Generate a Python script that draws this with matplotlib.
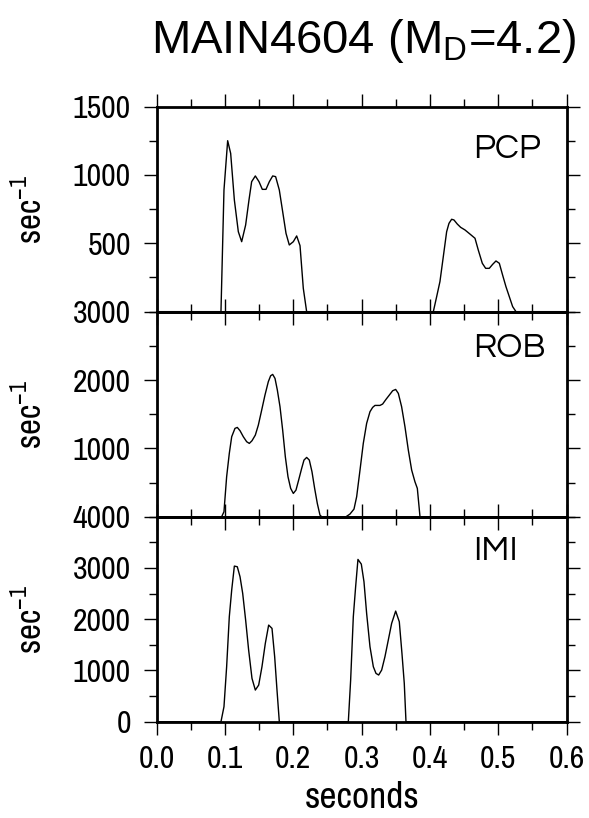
import matplotlib
matplotlib.use("Agg")
import matplotlib.pyplot as plt
from matplotlib.ticker import MultipleLocator, FixedLocator, FormatStrFormatter

# traces (seconds, sec^-1)
pcp_t = [0.0, 0.0941, 0.0985, 0.1039, 0.1083, 0.1137, 0.1195, 0.1244, 0.1302, 0.1351, 0.1390,
         0.1444, 0.1498, 0.1546, 0.1600, 0.1649, 0.1698, 0.1741, 0.1795, 0.1844, 0.1893,
         0.1941, 0.2000, 0.2049, 0.2098, 0.2146, 0.2195,
         0.4049, 0.4098, 0.4146, 0.4195, 0.4244, 0.4278, 0.4317, 0.4351, 0.4400, 0.4449,
         0.4512, 0.4585, 0.4659, 0.4707, 0.4766, 0.4815, 0.4868, 0.4917, 0.4966, 0.5015,
         0.5063, 0.5112, 0.5161, 0.5210, 0.5259, 0.6]
pcp_v = [0, 0, 890, 1251, 1158, 817, 585, 512, 634, 817, 951,
         993, 951, 895, 895, 951, 993, 988, 890, 732, 573,
         488, 512, 554, 483, 171, 0,
         0, 110, 220, 402, 585, 646, 676, 671, 641, 617,
         598, 568, 537, 451, 354, 317, 317, 346, 371, 354,
         268, 183, 110, 37, 0, 0]

rob_t = [0.0, 0.0951, 0.0985, 0.1024, 0.1063, 0.1098, 0.1146, 0.1180, 0.1220, 0.1268, 0.1317,
         0.1356, 0.1395, 0.1444, 0.1488, 0.1537, 0.1585, 0.1634, 0.1668, 0.1698, 0.1732,
         0.1766, 0.1805, 0.1844, 0.1883, 0.1922, 0.1961, 0.2000, 0.2039, 0.2078, 0.2122,
         0.2156, 0.2195, 0.2234, 0.2273, 0.2312, 0.2351, 0.2390, 0.2415,
         0.2771, 0.2829, 0.2888, 0.2927, 0.2976, 0.3024, 0.3073, 0.3122, 0.3161, 0.3195,
         0.3268, 0.3307, 0.3356, 0.3405, 0.3454, 0.3498, 0.3537, 0.3585, 0.3634, 0.3683,
         0.3732, 0.3780, 0.3815, 0.3854, 0.6]
rob_v = [0, 0, 73, 585, 927, 1171, 1293, 1307, 1259, 1171, 1098,
         1073, 1112, 1195, 1341, 1561, 1780, 1976, 2063, 2083, 2024,
         1854, 1610, 1268, 878, 585, 415, 341, 390, 537, 707,
         829, 868, 829, 659, 415, 195, 24, 0,
         0, 39, 112, 293, 683, 1073, 1366, 1537, 1600, 1629,
         1629, 1649, 1717, 1780, 1844, 1863, 1805, 1610, 1317, 976,
         683, 512, 415, 0, 0]

imi_t = [0.0, 0.0941, 0.0985, 0.1024, 0.1063, 0.1098, 0.1137, 0.1180, 0.1220, 0.1259, 0.1302,
         0.1346, 0.1395, 0.1444, 0.1493, 0.1541, 0.1590, 0.1639, 0.1688, 0.1727, 0.1761, 0.1795,
         0.2805, 0.2839, 0.2878, 0.2912, 0.2946, 0.2995, 0.3034, 0.3073, 0.3122, 0.3171,
         0.3210, 0.3249, 0.3293, 0.3341, 0.3390, 0.3439, 0.3498, 0.3551, 0.3590, 0.3624,
         0.3649, 0.6]
imi_v = [0, 0, 293, 1073, 2049, 2569, 3037, 3024, 2829, 2504, 1984,
         1398, 846, 618, 715, 1073, 1528, 1886, 1821, 1268, 618, 0,
         0, 813, 2049, 2634, 3167, 3076, 2732, 2114, 1463, 1073,
         943, 911, 1008, 1268, 1593, 1919, 2159, 1951, 1333, 748,
         0, 0]

names = ["PCP", "ROB", "IMI"]
ymax = [1500, 3000, 4000]
ymaj = [[500, 1000, 1500], [1000, 2000, 3000], [0, 1000, 2000, 3000, 4000]]
ymin_step = [250, 500, 500]
label_y = [0.795, 0.825, 0.835]

narrow = ["Liberation Sans Narrow", "Archivo Narrow", "DejaVu Sans"]
plt.rcParams["font.family"] = narrow
plt.rcParams["mathtext.fontset"] = "custom"
plt.rcParams["mathtext.rm"] = "Archivo Narrow"
gothic = ["Questrial", "Poppins", "Lato", "DejaVu Sans"]

fig = plt.figure(figsize=(5.89, 8.18), dpi=100)

L, W, H = 0.266, 0.696, 0.2506
bottoms = [0.6190, 0.3683, 0.1177]
traces = [(pcp_t, pcp_v), (rob_t, rob_v), (imi_t, imi_v)]

for i in range(3):
    ax = fig.add_axes([L, bottoms[i], W, H])
    ax.set_facecolor("none")
    t, v = traces[i]
    ax.plot(t, v, color="black", lw=1.0)
    ax.set_xlim(0, 0.6)
    ax.set_ylim(0, ymax[i])
    ax.xaxis.set_major_locator(MultipleLocator(0.1))
    ax.xaxis.set_minor_locator(MultipleLocator(0.05))
    ax.xaxis.set_major_formatter(FormatStrFormatter("%.1f"))
    ax.yaxis.set_major_locator(FixedLocator(ymaj[i]))
    ax.yaxis.set_minor_locator(MultipleLocator(ymin_step[i]))
    for s in ax.spines.values():
        s.set_linewidth(2.0)
    ax.tick_params(which="both", direction="out", top=True, right=True, width=1.0,
                   labelsize=23)
    ax.tick_params(which="major", length=9.6)
    ax.tick_params(which="minor", length=5.5)
    ax.tick_params(axis="y", pad=9)
    ax.tick_params(axis="x", pad=7)
    if i < 2:
        ax.tick_params(labelbottom=False)
    ax.set_ylabel("sec$^{\\mathregular{-1}}$", fontsize=25)
    ax.yaxis.set_label_coords(-0.265, 0.5)
    ax.text(0.771, label_y[i], names[i], transform=ax.transAxes, ha="left", va="center",
            fontsize=25, family=gothic)

fig.text(0.614, 1 - 808 / 818, "seconds", ha="center", va="baseline", fontsize=27)
fig.text(0.617, 1 - 53 / 818, "MAIN4604 (M$_{\\mathregular{D}}$=4.2)", ha="center",
         va="baseline", fontsize=34, family=["Liberation Sans", "DejaVu Sans"],
         math_fontfamily="dejavusans")

fig.savefig("out.png", dpi=100)
